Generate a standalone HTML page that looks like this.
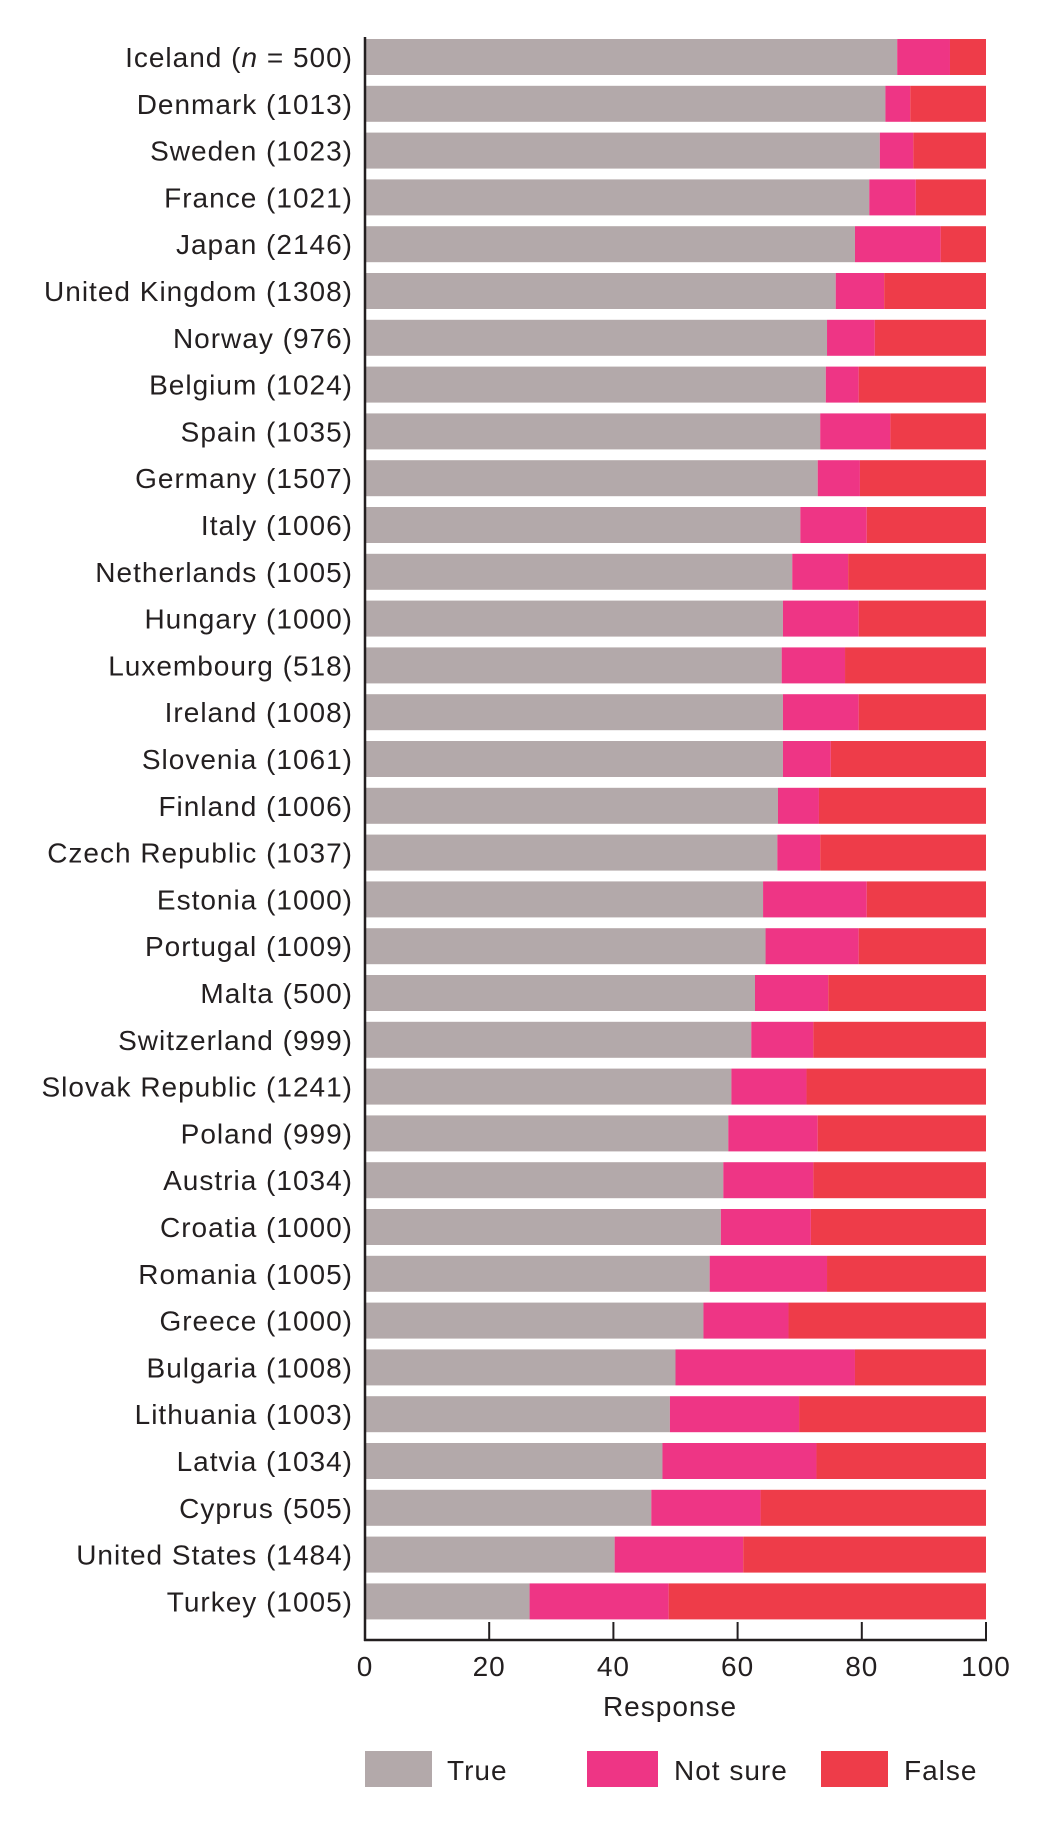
<!DOCTYPE html>
<html><head><meta charset="utf-8"><style>
html,body{margin:0;padding:0;background:#fff;}
svg{display:block;}
text{font-family:"Liberation Sans",sans-serif;fill:#231f20;letter-spacing:1px;}
</style></head><body>
<svg width="1050" height="1827" viewBox="0 0 1050 1827" xmlns="http://www.w3.org/2000/svg">
<g id="bars"></g>
<g font-size="28" text-anchor="end" id="labels"></g>
<line x1="365" y1="37" x2="365" y2="1641" stroke="#231f20" stroke-width="2.5"/>
<line x1="364" y1="1640" x2="987" y2="1640" stroke="#231f20" stroke-width="2.5"/>
<g stroke="#231f20" stroke-width="2">
<line x1="489.2" y1="1622" x2="489.2" y2="1640"/>
<line x1="613.4" y1="1622" x2="613.4" y2="1640"/>
<line x1="737.6" y1="1622" x2="737.6" y2="1640"/>
<line x1="861.8" y1="1622" x2="861.8" y2="1640"/>
<line x1="986" y1="1622" x2="986" y2="1640"/>
</g>
<g font-size="28" text-anchor="middle">
<text x="365" y="1676">0</text>
<text x="489.2" y="1676">20</text>
<text x="613.4" y="1676">40</text>
<text x="737.6" y="1676">60</text>
<text x="861.8" y="1676">80</text>
<text x="986" y="1676">100</text>
<text x="670" y="1716">Response</text>
</g>
<rect x="365" y="1751" width="67" height="36" fill="#b3a9aa"/>
<rect x="587" y="1751" width="71" height="36" fill="#ee3585"/>
<rect x="821" y="1751" width="67" height="36" fill="#ee3c49"/>
<g font-size="28">
<text x="447" y="1780">True</text>
<text x="674" y="1780">Not sure</text>
<text x="904" y="1780">False</text>
</g>
</svg>
<script>
var d=[["Iceland",500,85.7,94.2],["Denmark",1013,83.8,87.8],["Sweden",1023,82.9,88.3],["France",1021,81.2,88.7],["Japan",2146,78.9,92.7],["United Kingdom",1308,75.8,83.6],["Norway",976,74.4,82.1],["Belgium",1024,74.2,79.5],["Spain",1035,73.3,84.6],["Germany",1507,72.9,79.7],["Italy",1006,70.1,80.8],["Netherlands",1005,68.8,77.8],["Hungary",1000,67.3,79.5],["Luxembourg",518,67.1,77.3],["Ireland",1008,67.3,79.5],["Slovenia",1061,67.3,75.0],["Finland",1006,66.5,73.1],["Czech Republic",1037,66.4,73.3],["Estonia",1000,64.1,80.8],["Portugal",1009,64.5,79.5],["Malta",500,62.8,74.6],["Switzerland",999,62.2,72.2],["Slovak Republic",1241,59.0,71.1],["Poland",999,58.5,72.9],["Austria",1034,57.7,72.2],["Croatia",1000,57.3,71.8],["Romania",1005,55.5,74.4],["Greece",1000,54.5,68.2],["Bulgaria",1008,50.0,78.9],["Lithuania",1003,49.1,69.9],["Latvia",1034,47.9,72.7],["Cyprus",505,46.1,63.7],["United States",1484,40.2,60.9],["Turkey",1005,26.5,48.9]];
var ns="http://www.w3.org/2000/svg",B=document.getElementById("bars"),L=document.getElementById("labels");
function r(x,y,w,h,c){var e=document.createElementNS(ns,"rect");e.setAttribute("x",x);e.setAttribute("y",y);e.setAttribute("width",w);e.setAttribute("height",h);e.setAttribute("fill",c);B.appendChild(e);}
var x0=365,W=621;
d.forEach(function(v,i){var y=39+i*46.8;var a=x0+W*v[2]/100,b=x0+W*v[3]/100;
r(x0,y,a-x0,36,"#b3a9aa");r(a,y,b-a,36,"#ee3585");r(b,y,x0+W-b,36,"#ee3c49");
var t=document.createElementNS(ns,"text");t.setAttribute("x",353);t.setAttribute("y",y+28);
if(i==0){t.innerHTML='Iceland (<tspan font-style="italic">n</tspan> = 500)';}else{t.textContent=v[0]+" ("+v[1]+")";}
L.appendChild(t);});
</script>
</body></html>
